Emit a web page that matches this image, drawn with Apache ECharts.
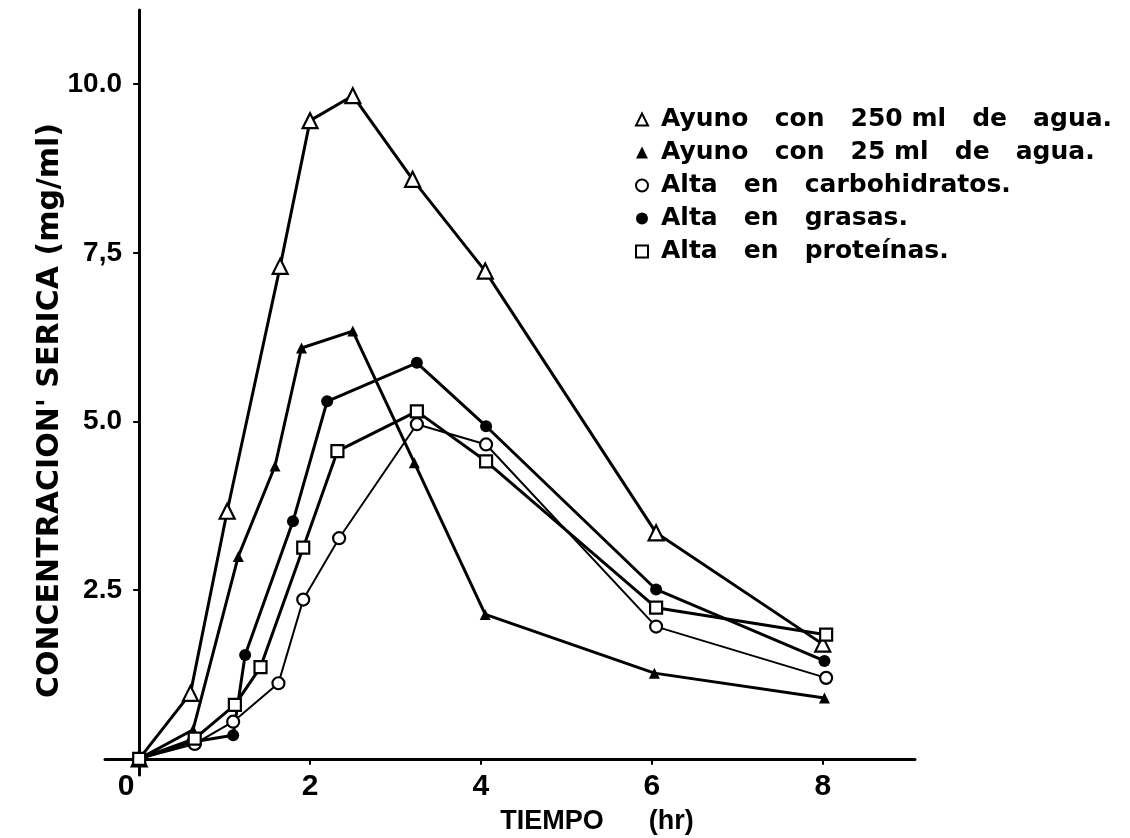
<!DOCTYPE html>
<html>
<head>
<meta charset="utf-8">
<script src="https://cdn.jsdelivr.net/npm/echarts@6/dist/echarts.min.js"></script>
<style>
html,body{margin:0;padding:0;background:#fff;}
#chart{width:1130px;height:838px;}
</style>
</head>
<body>
<div id="chart"></div>
<script>
// ---- data ----
const seriesNames = [
  'Ayuno   con   250 ml   de   agua.',
  'Ayuno   con   25 ml   de   agua.',
  'Alta   en   carbohidratos.',
  'Alta   en   grasas.',
  'Alta   en   proteínas.'
];
const t250 = [0, 0.6, 1.03, 1.65, 2.0, 2.5, 3.2, 4.05, 6.05, 8.0];
const v250 = [0, 0.97, 3.67, 7.3, 9.46, 9.83, 8.59, 7.23, 3.35, 1.7];
const t25 = [0, 0.63, 1.16, 1.59, 1.9, 2.5, 3.22, 4.05, 6.03, 8.02];
const v25 = [0, 0.43, 3.0, 4.34, 6.09, 6.34, 4.39, 2.14, 1.27, 0.9];
const tCarbo = [0, 0.65, 1.1, 1.63, 1.92, 2.34, 3.25, 4.06, 6.05, 8.04];
const vCarbo = [0, 0.22, 0.55, 1.12, 2.36, 3.27, 4.96, 4.66, 1.96, 1.2];
const tGrasas = [0, 0.62, 1.1, 1.24, 1.8, 2.2, 3.25, 4.06, 6.05, 8.02];
const vGrasas = [0, 0.25, 0.35, 1.54, 3.52, 5.3, 5.87, 4.93, 2.51, 1.45];
const tProt = [0, 0.65, 1.12, 1.42, 1.92, 2.32, 3.25, 4.06, 6.05, 8.04];
const vProt = [0, 0.3, 0.8, 1.36, 3.13, 4.56, 5.15, 4.41, 2.24, 1.84];
const xTicks = [0, 2, 4, 6, 8];
const yTicks = [2.5, 5, 7.5, 10];
const yTickLabels = {2.5: '2.5', 5: '5.0', 7.5: '7,5', 10: '10.0'};

const pair = (ts, vs) => ts.map((t, i) => [t, vs[i]]);
const FONT = 'DejaVu Sans';
const LIB = 'Liberation Sans';

const chart = echarts.init(document.getElementById('chart'), null, {renderer: 'canvas'});

function mk(name, data, symbol, size, open, lw) {
  return {
    name: name,
    type: 'line',
    data: data,
    symbol: symbol,
    symbolSize: size,
    showAllSymbol: true,
    lineStyle: {color: '#000', width: lw},
    itemStyle: open ? {color: '#fff', borderColor: '#000', borderWidth: 2.2}
                    : {color: '#000', borderColor: '#000', borderWidth: 0},
    z: open ? 3 : 2,
    animation: false
  };
}

const option = {
  backgroundColor: '#fff',
  animation: false,
  grid: {left: 105, right: 215, top: 10, bottom: 63, containLabel: false, outerBoundsMode: 'none'},
  legend: {
    orient: 'vertical',
    left: 630,
    top: 102,
    itemGap: 8,
    itemWidth: 12,
    itemHeight: 12,
    textStyle: {fontFamily: FONT, fontWeight: 'bold', fontSize: 25, color: '#000', lineHeight: 24, padding: [0, 0, 0, 8]},
    data: [
      {name: seriesNames[0], icon: 'triangle', itemStyle: {color: '#fff', borderColor: '#000', borderWidth: 2}},
      {name: seriesNames[1], icon: 'triangle', itemStyle: {color: '#000', borderWidth: 0}},
      {name: seriesNames[2], icon: 'circle', itemStyle: {color: '#fff', borderColor: '#000', borderWidth: 2}},
      {name: seriesNames[3], icon: 'circle', itemStyle: {color: '#000', borderWidth: 0}},
      {name: seriesNames[4], icon: 'rect', itemStyle: {color: '#fff', borderColor: '#000', borderWidth: 2}}
    ]
  },
  xAxis: {
    type: 'value',
    min: -0.4,
    max: 9.08,
    name: 'TIEMPO      (hr)',
    nameLocation: 'middle',
    nameGap: 33,
    nameMoveOverlap: false,
    nameTextStyle: {fontFamily: LIB, fontWeight: 'bold', fontSize: 27, color: '#000', padding: [0, 0, 0, 174]},
    axisLine: {onZero: true, lineStyle: {color: '#000', width: 3}},
    axisTick: {show: true, inside: false, length: 6, customValues: xTicks, lineStyle: {color: '#000', width: 2}},
    axisLabel: {
      customValues: xTicks, margin: -3, fontFamily: LIB, fontWeight: 'bold', fontSize: 30, color: '#000',
      formatter: v => v === 0 ? '{z|0}' : String(v),
      rich: {z: {fontFamily: LIB, fontWeight: 'bold', fontSize: 30, color: '#000', padding: [0, 26, 0, 0]}}
    },
    splitLine: {show: false}
  },
  yAxis: {
    type: 'value',
    min: -0.24,
    max: 11.1,
    name: "CONCENTRACION' SERICA (mg/ml)",
    nameLocation: 'middle',
    nameGap: 40,
    nameMoveOverlap: false,
    nameRotate: 90,
    nameTextStyle: {fontFamily: FONT, fontWeight: 'bold', fontSize: 30, color: '#000', padding: [0, 36, 0, 0]},
    axisLine: {onZero: true, lineStyle: {color: '#000', width: 3}},
    axisTick: {show: true, length: 6, customValues: yTicks, lineStyle: {color: '#000', width: 2}},
    axisLabel: {
      customValues: yTicks, margin: -17, fontFamily: LIB, fontWeight: 'bold', fontSize: 28, color: '#000',
      formatter: v => yTickLabels[v] || ''
    },
    splitLine: {show: false}
  },
  series: [
    mk(seriesNames[0], pair(t250, v250), 'triangle', 15, true, 3),
    mk(seriesNames[1], pair(t25, v25), 'triangle', 11, false, 3),
    mk(seriesNames[2], pair(tCarbo, vCarbo), 'circle', 12, true, 2),
    mk(seriesNames[3], pair(tGrasas, vGrasas), 'circle', 12, false, 3),
    mk(seriesNames[4], pair(tProt, vProt), 'rect', 12, true, 3)
  ]
};
chart.setOption(option);
</script>
</body>
</html>
